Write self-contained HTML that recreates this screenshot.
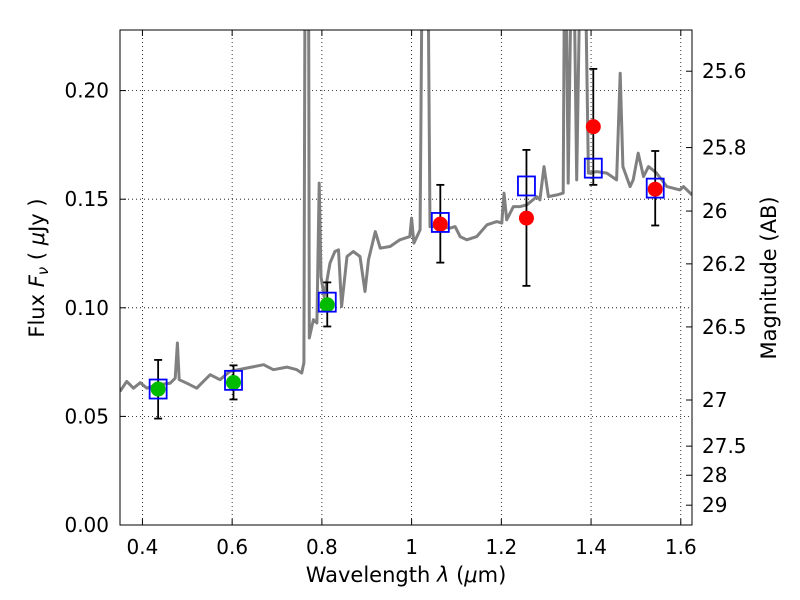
<!DOCTYPE html>
<html><head><meta charset="utf-8"><style>
body{margin:0;background:#fff}
svg{display:block;font-family:"DejaVu Sans","Liberation Sans",sans-serif}
</style></head><body>
<svg id="chart" width="800" height="600" viewBox="0 0 800 600">
<defs><clipPath id="pc"><rect x="120" y="30" width="572" height="495"/></clipPath></defs>
<rect x="0" y="0" width="800" height="600" fill="#fff"/>
<g id="grid"></g>
<g id="spec" clip-path="url(#pc)"></g>
<g id="pts" clip-path="url(#pc)"></g>
<rect x="120" y="30" width="572" height="495" fill="none" stroke="#000" stroke-width="1"/>
<g id="axes"></g>
<text x="406" y="582" font-size="21" text-anchor="middle">Wavelength  <tspan font-style="italic">λ</tspan> (<tspan font-style="italic">μ</tspan>m)</text>
<text transform="translate(44,268) rotate(-90)" font-size="21" text-anchor="middle">Flux  <tspan font-style="italic">F<tspan font-size="15" dy="4">ν</tspan></tspan><tspan dy="-4">  ( </tspan><tspan font-style="italic">μ</tspan>Jy )</text>
<text transform="translate(776,278) rotate(-90)" font-size="21" text-anchor="middle">Magnitude (AB)</text>
</svg>
<script>
const specWave=[0.350,0.365,0.380,0.395,0.410,0.432,0.462,0.473,0.478,0.482,0.499,0.521,0.536,0.551,0.573,0.595,0.633,0.670,0.692,0.722,0.744,0.755,0.760,0.763,0.770,0.772,0.781,0.789,0.794,0.798,0.805,0.818,0.829,0.837,0.844,0.856,0.870,0.885,0.896,0.904,0.919,0.930,0.952,0.974,0.996,1.000,1.005,1.019,1.025,1.035,1.041,1.063,1.086,1.097,1.108,1.123,1.145,1.168,1.190,1.201,1.206,1.212,1.227,1.242,1.257,1.279,1.286,1.295,1.305,1.324,1.338,1.342,1.349,1.359,1.368,1.379,1.384,1.394,1.413,1.435,1.457,1.465,1.471,1.487,1.494,1.505,1.517,1.528,1.546,1.569,1.598,1.606,1.625];
const specFlux=[0.0615,0.0661,0.0630,0.0655,0.0630,0.0646,0.0653,0.0676,0.0838,0.0669,0.0653,0.0630,0.0661,0.0692,0.0669,0.0707,0.0723,0.0738,0.0715,0.0727,0.0715,0.0700,0.0747,0.30,0.30,0.0861,0.0945,0.0930,0.1574,0.1144,0.1052,0.1206,0.1259,0.1267,0.1006,0.1236,0.1259,0.1236,0.1075,0.1221,0.1351,0.1275,0.1282,0.1313,0.1328,0.1413,0.1298,0.1359,0.30,0.30,0.1374,0.1374,0.1367,0.1374,0.1328,0.1313,0.1328,0.1382,0.1397,0.1390,0.1528,0.1405,0.1466,0.1466,0.1474,0.1512,0.1497,0.1650,0.1512,0.1520,0.1528,0.30,0.1574,0.30,0.1589,0.30,0.30,0.1620,0.1627,0.1620,0.1589,0.2080,0.1650,0.1558,0.1589,0.1712,0.1604,0.1650,0.1620,0.1558,0.1543,0.1558,0.1520];
const obsWave=[0.435,0.603,0.812,1.064,1.256,1.405,1.543];
const obsFlux=[0.0626,0.0656,0.1014,0.1385,0.1413,0.1834,0.1546];
const obsErrLo=[0.049,0.0578,0.0914,0.1208,0.1101,0.1566,0.1379];
const obsErrHi=[0.076,0.0735,0.1117,0.1566,0.1727,0.210,0.1722];
const obsColor=["#00bb00","#00bb00","#00bb00","#ff0000","#ff0000","#ff0000","#ff0000"];
const modelFlux=[0.0626,0.0666,0.1026,0.1393,0.1561,0.1643,0.1551];
const xTicks=[0.4,0.6,0.8,1.0,1.2,1.4,1.6];
const xTickLabels=["0.4","0.6","0.8","1","1.2","1.4","1.6"];
const yTicks=[0,0.05,0.10,0.15,0.20];
const yTickLabels=["0.00","0.05","0.10","0.15","0.20"];
const magTicks=[25.6,25.8,26,26.2,26.5,27,27.5,28,29];
const magTickLabels=["25.6","25.8","26","26.2","26.5","27","27.5","28","29"];

const X0=120,X1=692,Y0=525,Y1=30,XMIN=0.350,XMAX=1.625,YMIN=0,YMAX=0.2279;
const sx=v=>X0+(v-XMIN)/(XMAX-XMIN)*(X1-X0);
const sy=v=>Y0-(v-YMIN)/(YMAX-YMIN)*(Y0-Y1);
const magToFlux=m=>Math.pow(10,(23.9-m)/2.5);
const NS="http://www.w3.org/2000/svg";
function mk(tag,attrs,parent){const e=document.createElementNS(NS,tag);for(const k in attrs)e.setAttribute(k,attrs[k]);parent.appendChild(e);return e;}
const grid=document.getElementById('grid'),axes=document.getElementById('axes'),spec=document.getElementById('spec'),pts=document.getElementById('pts');

xTicks.forEach((t,i)=>{const x=sx(t);
 let g=mk('line',{x1:x,x2:x,y1:Y1,y2:Y0,stroke:'#000','stroke-width':0.8,'stroke-dasharray':'1,3'},grid);
 
 let a=mk('line',{x1:x,x2:x,y1:Y0,y2:Y0-6,stroke:'#000'},axes);
 
 let b=mk('line',{x1:x,x2:x,y1:Y1,y2:Y1+6,stroke:'#000'},axes);
 
 let tx=mk('text',{x:x,y:554,'font-size':20,'text-anchor':'middle'},axes);tx.textContent=xTickLabels[i];
 
});
yTicks.forEach((t,i)=>{const y=sy(t);
 if(t>0){let g=mk('line',{x1:X0,x2:X1,y1:y,y2:y,stroke:'#000','stroke-width':0.8,'stroke-dasharray':'1,3'},grid);
 }
 let a=mk('line',{x1:X0,x2:X0+6,y1:y,y2:y,stroke:'#000'},axes);
 
 let tx=mk('text',{x:109,y:y+7,'font-size':20,'text-anchor':'end'},axes);tx.textContent=yTickLabels[i];
 
});
magTicks.forEach((m,i)=>{const y=sy(magToFlux(m));
 let a=mk('line',{x1:X1-6,x2:X1,y1:y,y2:y,stroke:'#000'},axes);
 
 let tx=mk('text',{x:702,y:y+7,'font-size':20,'text-anchor':'start'},axes);tx.textContent=magTickLabels[i];
 
});

let d=specWave.map((w,i)=>(i?'L':'M')+sx(w).toFixed(1)+','+sy(specFlux[i]).toFixed(1)).join(' ');
let sp=mk('path',{d:d,fill:'none',stroke:'#808080','stroke-width':3,'stroke-linejoin':'round'},spec);


obsWave.forEach((w,i)=>{const x=sx(w);
 let e=mk('line',{x1:x,x2:x,y1:sy(obsErrLo[i]),y2:sy(obsErrHi[i]),stroke:'#000','stroke-width':1.8},pts);
 
 [obsErrLo[i],obsErrHi[i]].forEach(v=>{let c=mk('line',{x1:x-4,x2:x+4,y1:sy(v),y2:sy(v),stroke:'#000','stroke-width':1.8},pts);
  });
 let c=mk('circle',{cx:x,cy:sy(obsFlux[i]),r:7.5,fill:obsColor[i]},pts);
 
 let s=mk('rect',{x:x-8.5,y:sy(modelFlux[i])-9.5,width:17,height:19,fill:'none',stroke:'#0000ff','stroke-width':1.8},pts);
 
});
</script>
</body></html>
